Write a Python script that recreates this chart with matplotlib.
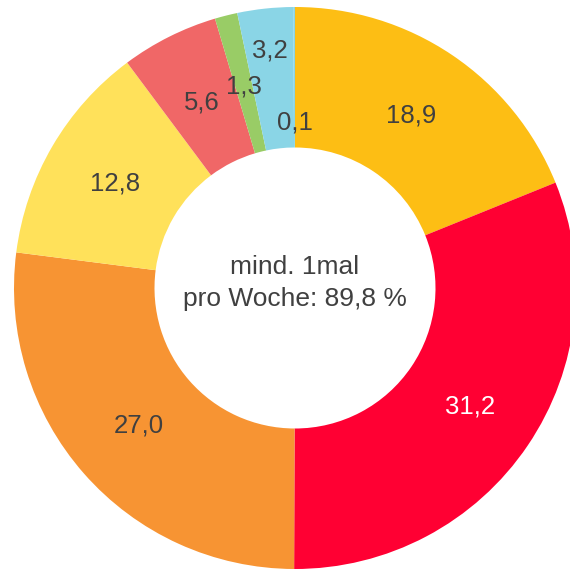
import numpy as np
import matplotlib
matplotlib.use("Agg")
import matplotlib.pyplot as plt

# Anteile in Prozent, im Uhrzeigersinn ab 12 Uhr
values = [18.9, 31.2, 27.0, 12.8, 5.6, 1.3, 3.2, 0.1]
labels = ["18,9", "31,2", "27,0", "12,8", "5,6", "1,3", "3,2", "0,1"]
colors = ["#FDBE14", "#FF0033", "#F79433", "#FFE15A", "#F06767",
          "#99CC66", "#8AD5E6", "#8AD5E6"]
label_colors = ["#404040", "white", "#404040", "#404040", "#404040",
                "#404040", "#404040", "#404040"]
label_radius = [0.74, 0.75, 0.74, 0.74, 0.74, 0.74, 0.85, 0.59]
center_text = "mind. 1mal\npro Woche: 89,8 %"

plt.rcParams['font.family'] = ['Liberation Sans', 'DejaVu Sans']

fig = plt.figure(figsize=(5.7, 5.7), dpi=100)
ax = fig.add_axes([14 / 570, 1 / 570, 562 / 570, 562 / 570])

wedges, _ = ax.pie(values, colors=colors, startangle=90, counterclock=False,
                   radius=1.0, wedgeprops=dict(width=0.5, linewidth=0))

for w, lab, col, r in zip(wedges, labels, label_colors, label_radius):
    ang = np.deg2rad((w.theta1 + w.theta2) / 2)
    ax.text(r * np.cos(ang), r * np.sin(ang), lab, ha='center', va='center',
            fontsize=18.5, color=col)

ax.text(0, 0.018, center_text, ha='center', va='center', fontsize=19,
        color='#404040', linespacing=1.4)

ax.set_xlim(-1, 1)
ax.set_ylim(-1, 1)
ax.set_aspect('equal')
ax.axis('off')

fig.savefig("out.png", dpi=100)
